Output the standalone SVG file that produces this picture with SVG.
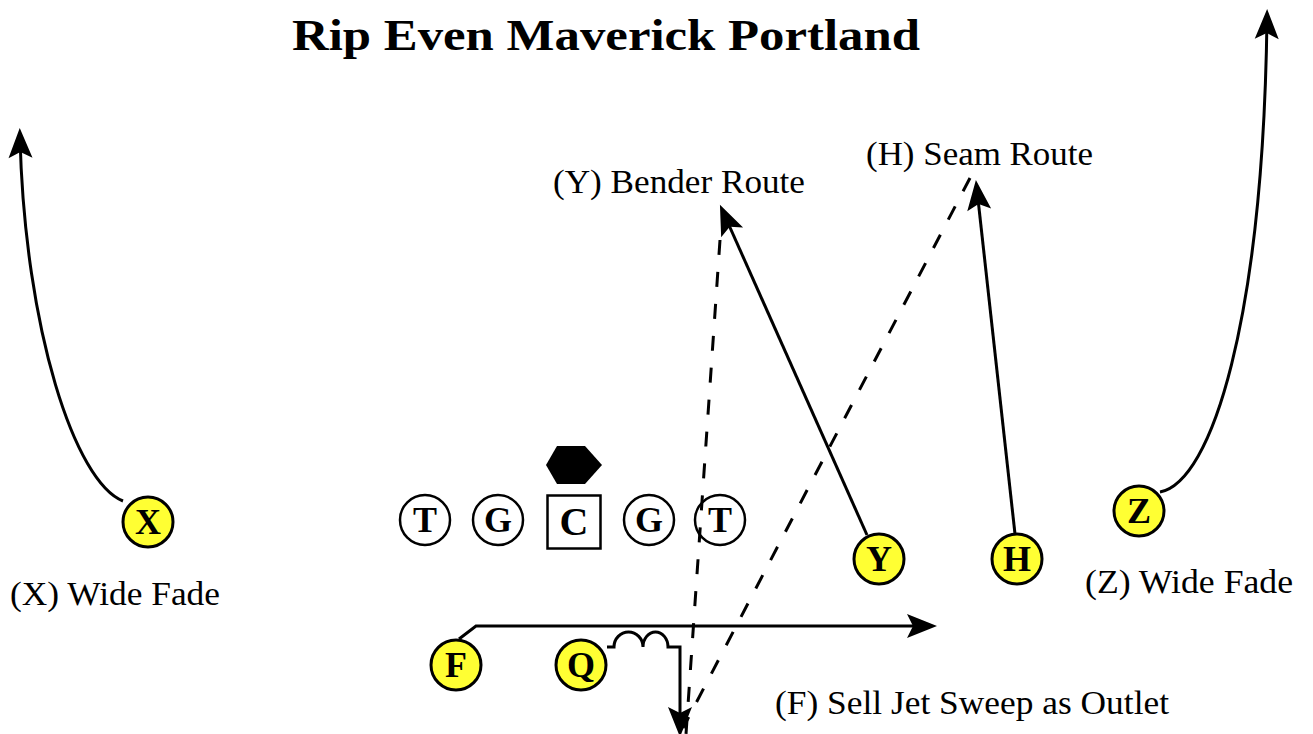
<svg xmlns="http://www.w3.org/2000/svg" width="1313" height="734" viewBox="0 0 1313 734">
<style>
.pl{fill:#FFFF33;stroke:#000;stroke-width:3}
.ol{fill:#fff;stroke:#000;stroke-width:2.5}
.lt{font-family:"Liberation Serif","Times New Roman",Times,serif;font-weight:bold;font-size:36px;text-anchor:middle;fill:#000}
.lb{font-family:"Liberation Serif","Times New Roman",Times,serif;font-size:34px;fill:#000}
.rt{fill:none;stroke:#000;stroke-width:3}
.ds{fill:none;stroke:#000;stroke-width:3;stroke-dasharray:15 17}
</style>
<defs>
<marker id="ah" markerUnits="userSpaceOnUse" markerWidth="40" markerHeight="30" viewBox="-22 -15 40 30" refX="0" refY="0" orient="auto" overflow="visible">
<path d="M10,0 L-20,-12 L-14,0 L-20,12 Z" fill="#000"/>
</marker>
</defs>
<rect width="1313" height="734" fill="#fff"/>
<text x="292" y="50" textLength="628" lengthAdjust="spacingAndGlyphs" style="font-family:'Liberation Serif','Times New Roman',Times,serif;font-weight:bold;font-size:44px">Rip Even Maverick Portland</text>

<g id="connectors">
<path class="rt" d="M123,501 C75,482 25,330 20,138" marker-end="url(#ah)"/>
<path class="rt" d="M1160,492 C1212,482 1263,320 1267,19" marker-end="url(#ah)"/>
<path class="rt" d="M867,535 L724,214" marker-end="url(#ah)"/>
<path class="rt" d="M1015,534 L977,190" marker-end="url(#ah)"/>
<path class="rt" d="M459,639 L476,626 L927,626" marker-end="url(#ah)"/>
<path class="rt" d="M607,647 L614,647 A14.5,15 0 0 1 643,647 A12.5,15 0 0 1 668,647 L680,647 L680,727" marker-end="url(#ah)"/>
<path class="ds" d="M720,240 L686,734"/>
<path class="ds" d="M970,178 L683,728"/>
</g>

<g id="defender"><polygon points="546,465 557,446 585,446 602,465 585,484 557,484" fill="#000"/></g>

<g id="LT"><circle class="ol" cx="425" cy="520" r="25"/><text class="lt" x="425" y="532">T</text></g>
<g id="LG"><circle class="ol" cx="498" cy="520" r="25"/><text class="lt" x="498" y="532">G</text></g>
<g id="C"><rect class="ol" x="547.5" y="495.5" width="53" height="53"/><text class="lt" x="574" y="535" style="font-size:40px">C</text></g>
<g id="RG"><circle class="ol" cx="649" cy="520" r="25"/><text class="lt" x="649" y="532">G</text></g>
<g id="RT"><circle class="ol" cx="720" cy="520" r="25" style="fill:none"/><text class="lt" x="720" y="532">T</text></g>

<g id="X"><circle class="pl" cx="148" cy="522" r="25"/><text class="lt" x="148" y="534">X</text></g>
<g id="Z"><circle class="pl" cx="1139" cy="511" r="25"/><text class="lt" x="1139" y="523">Z</text></g>
<g id="Y"><circle class="pl" cx="879" cy="559" r="25"/><text class="lt" x="879" y="571">Y</text></g>
<g id="H"><circle class="pl" cx="1017" cy="559" r="25"/><text class="lt" x="1017" y="571">H</text></g>
<g id="F"><circle class="pl" cx="456" cy="665" r="25"/><text class="lt" x="456" y="677">F</text></g>
<g id="Q"><circle class="pl" cx="581" cy="665" r="25"/><text class="lt" x="581" y="677">Q</text></g>

<g id="labels">
<text class="lb" x="553" y="193" textLength="252" lengthAdjust="spacingAndGlyphs">(Y) Bender Route</text>
<text class="lb" x="866" y="165" textLength="227" lengthAdjust="spacingAndGlyphs">(H) Seam Route</text>
<text class="lb" x="10" y="605" textLength="210" lengthAdjust="spacingAndGlyphs">(X) Wide Fade</text>
<text class="lb" x="1085" y="593" textLength="208" lengthAdjust="spacingAndGlyphs">(Z) Wide Fade</text>
<text class="lb" x="775" y="714" textLength="394" lengthAdjust="spacingAndGlyphs">(F) Sell Jet Sweep as Outlet</text>
</g>
</svg>
